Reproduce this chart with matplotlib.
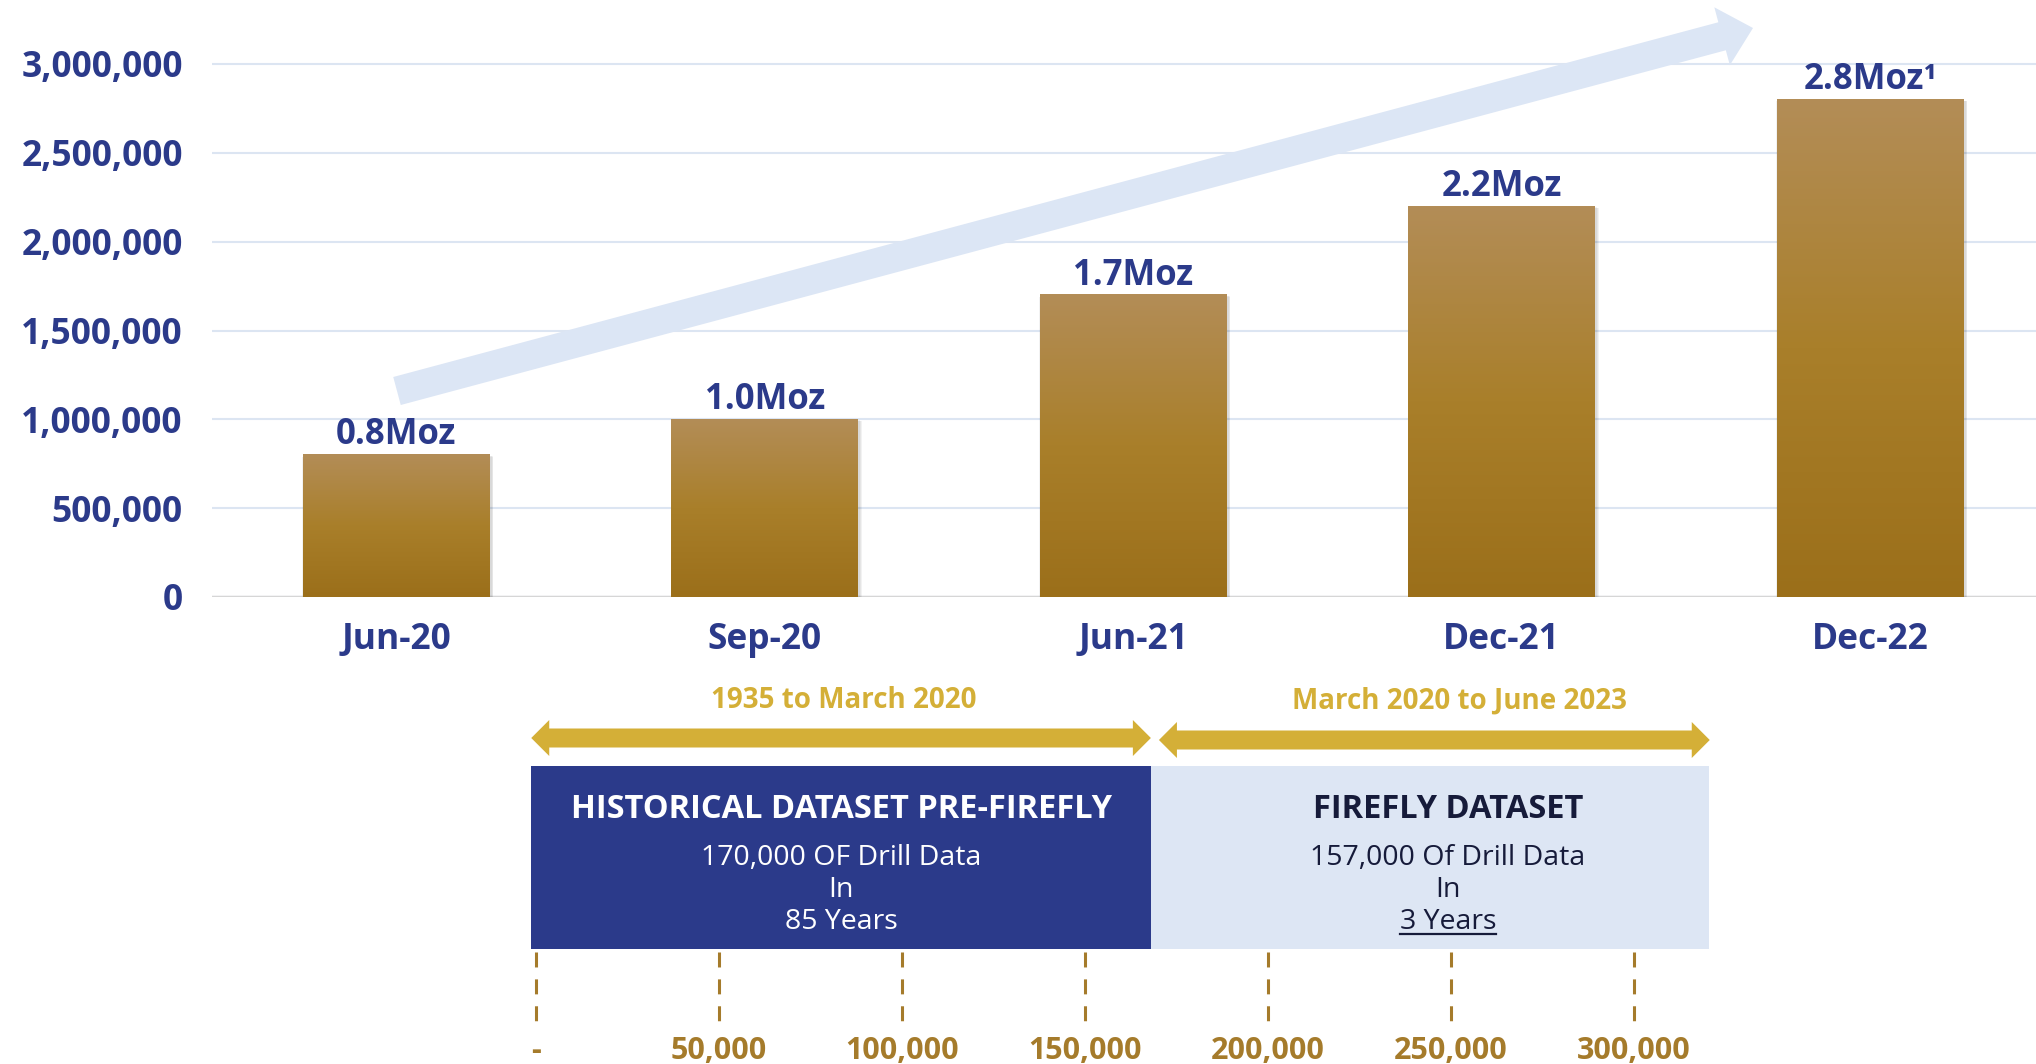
import numpy as np
import matplotlib
matplotlib.use('Agg')
import matplotlib.pyplot as plt
from matplotlib.patches import FancyArrow, Rectangle, Polygon
from matplotlib.colors import LinearSegmentedColormap

# resource growth by period
periods = ['Jun-20', 'Sep-20', 'Jun-21', 'Dec-21', 'Dec-22']
ounces = [800000, 1000000, 1700000, 2200000, 2800000]
bar_labels = ['0.8Moz', '1.0Moz', '1.7Moz', '2.2Moz', '2.8Moz\u00b9']
y_ticks = [0, 500000, 1000000, 1500000, 2000000, 2500000, 3000000]

# drill datasets
dataset_names = ['HISTORICAL DATASET PRE-FIREFLY', 'FIREFLY DATASET']
dataset_spans = ['1935 to March 2020', 'March 2020 to June 2023']
dataset_counts = ['170,000 OF Drill Data', '157,000 Of Drill Data']
dataset_years = ['85 Years', '3 Years']
dataset_edges = [-1500, 168000, 320500]
scale_ticks = [0, 50000, 100000, 150000, 200000, 250000, 300000]
scale_labels = ['-', '50,000', '100,000', '150,000', '200,000', '250,000', '300,000']

NAVY = '#2B3A8A'
GOLD = '#D4AF37'
BROWN = '#A57B2B'
LIGHT = '#DDE6F4'
FONT = 'Open Sans'

W, H = 2036, 1064
fig = plt.figure(figsize=(W / 100, H / 100), dpi=100)
plt.rcParams['font.family'] = [FONT, 'DejaVu Sans']

# ---- top bar chart ----
top_px, base_px, grid3_px = 30, 597, 64
ax = fig.add_axes([212 / W, (H - base_px) / H, 1 - 212 / W, (base_px - top_px) / H])
ymax = 3000000 * (base_px - top_px) / (base_px - grid3_px)
x = np.arange(len(periods))
bw = 0.507
bars = ax.bar(x, ounces, width=bw, color='none', zorder=3)

cmap = LinearSegmentedColormap.from_list('gold', ['#9B6F1A', '#A97F2A', '#B38D57'])
grad = np.linspace(0, 1, 256).reshape(-1, 1)
for b, lab in zip(bars, bar_labels):
    x0, w, h = b.get_x(), b.get_width(), b.get_height()
    for k in range(3):
        d = 0.004 * (k + 1)
        ax.add_patch(Rectangle((x0 - d / 2 + 0.004, -6000 * (k + 1)), w + d, h + 4000 * k,
                               color='black', alpha=0.05, zorder=2, lw=0))
    ax.imshow(grad, extent=[x0, x0 + w, 0, h], origin='lower', aspect='auto', cmap=cmap, zorder=3)
    ax.annotate(lab, (x0 + w / 2, h), xytext=(0, 1), textcoords='offset points',
                ha='center', va='bottom', fontsize=25, fontweight='bold', color=NAVY)

ax.set_xlim(-0.5, 4.45)
ax.set_ylim(0, ymax)
ax.set_yticks(y_ticks)
ax.set_yticklabels([f'{v:,.0f}' for v in y_ticks])
ax.set_xticks(x)
ax.set_xticklabels(periods)
ax.tick_params(axis='y', length=0, pad=21, labelsize=25.5, labelcolor=NAVY)
ax.tick_params(axis='x', length=0, pad=18, labelsize=25.5, labelcolor=NAVY)
for t in ax.get_xticklabels() + ax.get_yticklabels():
    t.set_fontweight('bold')
ax.yaxis.grid(True, color='#DCE5F2', lw=1.5, zorder=0)
ax.set_axisbelow(True)
ax.axhline(0, color='#D6D6D6', lw=2.5, zorder=1)
for s in ax.spines.values():
    s.set_visible(False)

# ---- overlay in pixel coords for the trend arrow ----
ov = fig.add_axes([0, 0, 1, 1], facecolor='none')
ov.set_xlim(0, W)
ov.set_ylim(H, 0)
ov.axis('off')
tail = (397, 391)
tip = (1753, 28)
ov.add_patch(FancyArrow(tail[0], tail[1], tip[0] - tail[0], tip[1] - tail[1], width=29,
                        head_width=60, head_length=32, length_includes_head=True,
                        color='#DCE6F5', lw=0, zorder=1))

# ---- bottom dataset panel ----
ax2 = fig.add_axes([0, 0, 1, (H - 680) / H], facecolor='none')
zero_px, per_px = 536, 1098 / 300000
ax2.set_xlim((0 - zero_px) / per_px, (W - zero_px) / per_px)
ax2.set_ylim(H, 680)
ax2.axis('off')

box_top, box_bot = 766, 949
ax2.barh((box_top + box_bot) / 2, np.diff(dataset_edges), left=dataset_edges[:-1],
         height=box_bot - box_top, color=[NAVY, LIGHT], zorder=1)

# period arrows (double headed)
arrow_ends = [(-1300, 168000, 738), (170200, 320700, 740)]
shaft, head, hl = 19 / 2, 36 / 2, 18 / per_px
for (a, b, yy) in arrow_ends:
    pts = [(a, yy), (a + hl, yy - head), (a + hl, yy - shaft), (b - hl, yy - shaft),
           (b - hl, yy - head), (b, yy), (b - hl, yy + head), (b - hl, yy + shaft),
           (a + hl, yy + shaft), (a + hl, yy + head)]
    ax2.add_patch(Polygon(pts, closed=True, color=GOLD, lw=0, zorder=2))

span_x = [84150, 252300]
text_x = [83400, 249200]
for i in range(2):
    c = 'white' if i == 0 else '#161B3A'
    ax2.text(span_x[i], 701, dataset_spans[i], ha='center', va='center',
             fontsize=20, fontweight='bold', color=GOLD)
    ax2.text(text_x[i], 809, dataset_names[i], ha='center', va='center',
             fontsize=23.5, fontweight='bold', color=c)
    ax2.text(text_x[i], 858, dataset_counts[i], ha='center', va='center',
             fontsize=20.5, fontweight='medium', color=c)
    ax2.text(text_x[i], 890, 'In', ha='center', va='center', fontsize=20.5,
             fontweight='medium', color=c)
    yt = ax2.text(text_x[i], 922, dataset_years[i], ha='center', va='center',
                  fontsize=20.5, fontweight='medium', color=c)
    if i == 1:
        under = yt

ax2.vlines(scale_ticks, 952, 1022, colors=BROWN, lw=2.2, linestyles=(0, (4.9, 3.9)))
for v, lab in zip(scale_ticks, scale_labels):
    ax2.text(v, 1051, lab, ha='center', va='center', fontsize=22, fontweight='bold', color=BROWN)

# underline "3 Years"
fig.canvas.draw()
bb = under.get_window_extent()
inv = ax2.transData.inverted()
(ux0, uy), (ux1, _) = inv.transform([(bb.x0, bb.y0 + 2), (bb.x1, bb.y0 + 2)])
ax2.plot([ux0, ux1], [uy, uy], color='#161B3A', lw=1.6, zorder=3)

fig.savefig('out.png', dpi=100)
